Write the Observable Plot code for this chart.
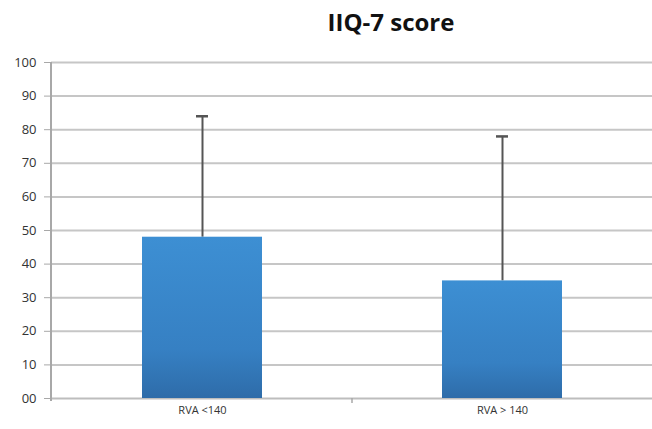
<!DOCTYPE html>
<html>
<head>
<meta charset="utf-8">
<script src="https://cdn.jsdelivr.net/npm/d3@7"></script>
<script src="https://cdn.jsdelivr.net/npm/@observablehq/plot@0.6"></script>
<style>
  html, body { margin: 0; padding: 0; background: #fff; overflow: hidden; }
  #title { height: 48px; width: 652px; font-family: "Open Sans", "Liberation Sans", sans-serif; font-weight: bold; font-size: 24px; color: #111; text-align: center; box-sizing: border-box; padding-left: 130px; padding-top: 7px; line-height: 30px; overflow: hidden; }
  #chart svg { display: block; max-width: none; }
</style>
</head>
<body>
<div id="title"></div>
<div id="chart"></div>
<script>
const titleText = "IIQ-7 score";
const categories = ["RVA <140", "RVA > 140"];
const means = [48, 35];
const upper = [84, 78];
const yTicks = [0, 10, 20, 30, 40, 50, 60, 70, 80, 90, 100];

document.getElementById("title").textContent = titleText;

const data = categories.map((c, i) => ({cat: c, mean: means[i], upper: upper[i]}));
const fmt = d => d === 0 ? "00" : String(d);

const plot = Plot.plot({
  width: 652,
  height: 381,
  marginTop: 14,
  marginBottom: 31,
  marginLeft: 51,
  marginRight: 0,
  style: {fontFamily: "'Open Sans', 'Liberation Sans', sans-serif", fontSize: "13px", color: "#333"},
  x: {domain: categories, paddingInner: 0.6, paddingOuter: 0.3, label: null},
  y: {domain: [0, 100], label: null},
  marks: [
    Plot.ruleY(yTicks.filter(d => d > 0), {stroke: "#c6c6c6", strokeWidth: 2}),
    Plot.ruleY([0], {stroke: "#bdbdbd", strokeWidth: 2}),
    Plot.ruleX(data, {x: "cat", y1: "mean", y2: "upper", stroke: "#555", strokeWidth: 2}),
    Plot.tickY(data, {x: "cat", y: "upper", stroke: "#555", strokeWidth: 2.5, insetLeft: 54, insetRight: 54}),
    Plot.barY(data, {x: "cat", y: "mean", fill: "url(#barGrad)"}),
    Plot.axisY({ticks: yTicks, tickSize: 7, tickPadding: 8, stroke: "#a8a8a8", tickFormat: fmt, fontSize: 13, fill: "#333"}),
    Plot.axisX({tickSize: 0, tickPadding: 8, fontSize: 11, fill: "#333"})
  ]
});

const svg = d3.select(plot);
const defs = svg.insert("defs", ":first-child");
const grad = defs.append("linearGradient").attr("id", "barGrad").attr("x1", 0).attr("y1", 0).attr("x2", 0).attr("y2", 1);
grad.append("stop").attr("offset", "0%").attr("stop-color", "#3d8fd3");
grad.append("stop").attr("offset", "70%").attr("stop-color", "#3680c3");
grad.append("stop").attr("offset", "100%").attr("stop-color", "#2e6ca9");

const xs = plot.scale("x"), ys = plot.scale("y");
const y0 = ys.apply(0), y100 = ys.apply(100);
const left = 51;
svg.append("line").attr("x1", left).attr("x2", left).attr("y1", y100).attr("y2", y0 + 3).attr("stroke", "#a8a8a8").attr("stroke-width", 2);
const mid = (xs.apply(categories[0]) + xs.bandwidth + xs.apply(categories[1])) / 2;
svg.append("line").attr("x1", mid).attr("x2", mid).attr("y1", y0).attr("y2", y0 + 5).attr("stroke", "#a8a8a8").attr("stroke-width", 1.5);

document.getElementById("chart").appendChild(plot);
</script>
</body>
</html>
